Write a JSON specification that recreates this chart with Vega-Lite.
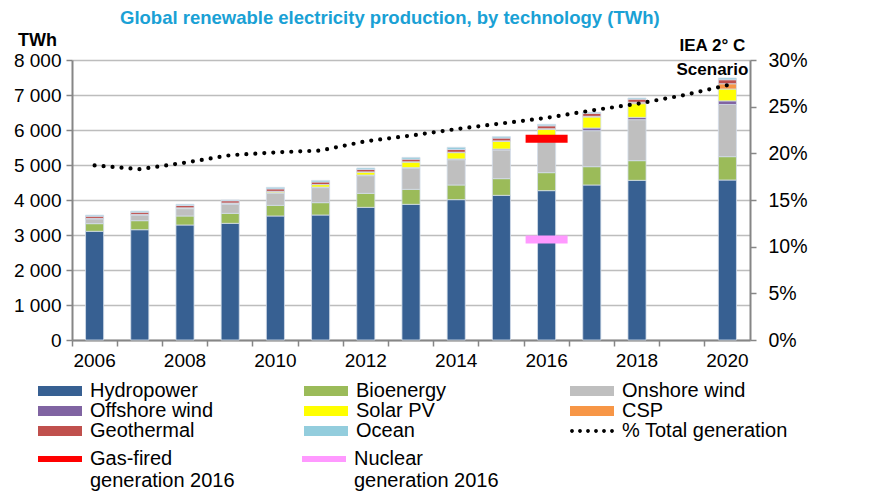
{
  "$schema": "https://vega.github.io/schema/vega-lite/v6.json",
  "width": 678,
  "height": 280,
  "autosize": "none",
  "padding": {"left": 72, "top": 60, "right": 127, "bottom": 159},
  "background": "white",
  "config": {
    "font": "Liberation Sans",
    "view": {"stroke": null},
    "axis": {"labelFont": "Liberation Sans", "labelColor": "black", "labelFontSize": 19, "domainColor": "#868686", "domainWidth": 2, "tickColor": "#868686", "tickWidth": 1.5, "tickSize": 6, "labelOverlap": false}
  },
  "title": {
    "text": "Global renewable electricity production, by technology (TWh)",
    "anchor": "start",
    "frame": "group",
    "dx": 48,
    "offset": 4,
    "fontSize": 18.5,
    "fontWeight": "bold",
    "color": "#1AA1D5"
  },
  "datasets": {
    "gen": [
      {"year": "2006", "Hydropower": 3106, "Bioenergy": 218, "Onshore wind": 140, "Offshore wind": 4, "Solar PV": 6, "CSP": 1, "Geothermal": 62, "Ocean": 30},
      {"year": "2007", "Hydropower": 3151, "Bioenergy": 258, "Onshore wind": 165, "Offshore wind": 5, "Solar PV": 8, "CSP": 1, "Geothermal": 63, "Ocean": 30},
      {"year": "2008", "Hydropower": 3286, "Bioenergy": 257, "Onshore wind": 210, "Offshore wind": 8, "Solar PV": 14, "CSP": 2, "Geothermal": 65, "Ocean": 35},
      {"year": "2009", "Hydropower": 3333, "Bioenergy": 286, "Onshore wind": 262, "Offshore wind": 10, "Solar PV": 20, "CSP": 2, "Geothermal": 66, "Ocean": 21},
      {"year": "2010", "Hydropower": 3543, "Bioenergy": 305, "Onshore wind": 350, "Offshore wind": 12, "Solar PV": 35, "CSP": 3, "Geothermal": 70, "Ocean": 44},
      {"year": "2011", "Hydropower": 3571, "Bioenergy": 353, "Onshore wind": 430, "Offshore wind": 15, "Solar PV": 70, "CSP": 4, "Geothermal": 72, "Ocean": 45},
      {"year": "2012", "Hydropower": 3790, "Bioenergy": 400, "Onshore wind": 505, "Offshore wind": 18, "Solar PV": 85, "CSP": 5, "Geothermal": 72, "Ocean": 40},
      {"year": "2013", "Hydropower": 3876, "Bioenergy": 429, "Onshore wind": 600, "Offshore wind": 20, "Solar PV": 160, "CSP": 7, "Geothermal": 75, "Ocean": 50},
      {"year": "2014", "Hydropower": 4010, "Bioenergy": 419, "Onshore wind": 722, "Offshore wind": 22, "Solar PV": 180, "CSP": 12, "Geothermal": 80, "Ocean": 60},
      {"year": "2015", "Hydropower": 4133, "Bioenergy": 477, "Onshore wind": 819, "Offshore wind": 28, "Solar PV": 219, "CSP": 14, "Geothermal": 80, "Ocean": 40},
      {"year": "2016", "Hydropower": 4267, "Bioenergy": 514, "Onshore wind": 900, "Offshore wind": 40, "Solar PV": 298, "CSP": 18, "Geothermal": 83, "Ocean": 42},
      {"year": "2017", "Hydropower": 4429, "Bioenergy": 523, "Onshore wind": 1029, "Offshore wind": 76, "Solar PV": 314, "CSP": 20, "Geothermal": 85, "Ocean": 29},
      {"year": "2018", "Hydropower": 4562, "Bioenergy": 562, "Onshore wind": 1171, "Offshore wind": 67, "Solar PV": 390, "CSP": 40, "Geothermal": 90, "Ocean": 32},
      {"year": "2020", "Hydropower": 4571, "Bioenergy": 667, "Onshore wind": 1490, "Offshore wind": 105, "Solar PV": 338, "CSP": 150, "Geothermal": 115, "Ocean": 50}
    ],
    "techs": [
      {"tech": "Hydropower", "rank": 1},
      {"tech": "Bioenergy", "rank": 2},
      {"tech": "Onshore wind", "rank": 3},
      {"tech": "Offshore wind", "rank": 4},
      {"tech": "Solar PV", "rank": 5},
      {"tech": "CSP", "rank": 6},
      {"tech": "Geothermal", "rank": 7},
      {"tech": "Ocean", "rank": 8}
    ],
    "pct": [
      {"year": "2006", "pct": 18.7, "series": "% Total generation"},
      {"year": "2007", "pct": 18.3, "series": "% Total generation"},
      {"year": "2008", "pct": 19.0, "series": "% Total generation"},
      {"year": "2009", "pct": 19.8, "series": "% Total generation"},
      {"year": "2010", "pct": 20.1, "series": "% Total generation"},
      {"year": "2011", "pct": 20.3, "series": "% Total generation"},
      {"year": "2012", "pct": 21.3, "series": "% Total generation"},
      {"year": "2013", "pct": 21.9, "series": "% Total generation"},
      {"year": "2014", "pct": 22.6, "series": "% Total generation"},
      {"year": "2015", "pct": 23.2, "series": "% Total generation"},
      {"year": "2016", "pct": 23.8, "series": "% Total generation"},
      {"year": "2017", "pct": 24.6, "series": "% Total generation"},
      {"year": "2018", "pct": 25.3, "series": "% Total generation"},
      {"year": "2019", "pct": 26.2, "series": "% Total generation"},
      {"year": "2020", "pct": 27.3, "series": "% Total generation"}
    ],
    "other": [
      {"year": "2016", "series": "Gas-fired generation 2016", "TWh": 5748},
      {"year": "2016", "series": "Nuclear generation 2016", "TWh": 2870}
    ],
    "note": [
      {"year": "2020", "label": "IEA 2° C\nScenario"}
    ]
  },
  "layer": [
    {
      "data": {"name": "gen"},
      "transform": [
        {"fold": ["Hydropower", "Bioenergy", "Onshore wind", "Offshore wind", "Solar PV", "CSP", "Geothermal", "Ocean"], "as": ["tech", "TWh"]},
        {"lookup": "tech", "from": {"data": {"name": "techs"}, "key": "tech", "fields": ["rank"]}}
      ],
      "mark": {"type": "bar", "width": {"band": 0.4}, "opacity": 1, "stroke": "#D3DDEA", "strokeWidth": 0.8},
      "encoding": {
        "x": {
          "field": "year", "type": "ordinal",
          "scale": {"domain": ["2006","2007","2008","2009","2010","2011","2012","2013","2014","2015","2016","2017","2018","2019","2020"], "paddingInner": 0, "paddingOuter": 0},
          "axis": {"title": null, "bandPosition": 0, "labelAngle": 0, "labelPadding": 5, "labelOverlap": false, "labelExpr": "toNumber(datum.value) % 2 == 0 ? datum.value : ''"}
        },
        "y": {
          "field": "TWh", "type": "quantitative", "stack": "zero",
          "scale": {"domain": [0, 8000], "nice": false},
          "axis": {
            "values": [0,1000,2000,3000,4000,5000,6000,7000,8000],
            "labelExpr": "replace(format(datum.value, ','), ',', ' ')",
            "labelOverlap": false,
            "grid": true, "gridColor": "#BDBDBD", "gridWidth": 1.5,
            "labelPadding": 5,
            "title": "TWh", "titleAngle": 0, "titleX": -35, "titleY": -20, "titleAlign": "center", "titleBaseline": "middle",
            "titleFontSize": 18, "titleFontWeight": "bold", "titleColor": "black", "titleFont": "Liberation Sans"
          }
        },
        "order": {"field": "rank", "type": "quantitative", "sort": "ascending"},
        "color": {
          "field": "tech", "type": "nominal",
          "sort": ["Hydropower", "Bioenergy", "Onshore wind", "Offshore wind", "Solar PV", "CSP", "Geothermal", "Ocean"],
          "scale": {
            "domain": ["Hydropower", "Bioenergy", "Onshore wind", "Offshore wind", "Solar PV", "CSP", "Geothermal", "Ocean"],
            "range": ["#376092", "#9BBB59", "#BFBFBF", "#8064A2", "#FFFF00", "#F79646", "#C0504D", "#93CDDD"]
          },
          "legend": {
            "orient": "none", "legendX": -39, "legendY": 321, "columns": 3, "direction": "horizontal",
            "title": null, "symbolSize": 100, "symbolType": "M-1,-1H7.8V1H-1Z", "symbolStrokeWidth": 0, "symbolOpacity": 1,
            "labelFontSize": 20, "labelFont": "Liberation Sans", "labelColor": "black", "labelOffset": 37, "labelLimit": 300,
            "columnPadding": 85, "rowPadding": 0, "gridAlign": "all"
          }
        }
      }
    },
    {
      "data": {"name": "other"},
      "mark": {"type": "tick", "thickness": 8, "size": 42, "opacity": 1},
      "encoding": {
        "x": {"field": "year", "type": "ordinal", "scale": {"domain": ["2006","2007","2008","2009","2010","2011","2012","2013","2014","2015","2016","2017","2018","2019","2020"]}},
        "y": {"field": "TWh", "type": "quantitative", "scale": {"domain": [0, 8000], "nice": false}, "axis": null},
        "color": {
          "field": "series", "type": "nominal",
          "scale": {"domain": ["Gas-fired generation 2016", "Nuclear generation 2016"], "range": ["#FF0000", "#FF99FF"]},
          "legend": {
            "orient": "none", "legendX": -39, "legendY": 389, "columns": 2, "direction": "horizontal",
            "title": null, "symbolSize": 100, "symbolType": "M-1,-0.6H7.8V0.6H-1Z", "symbolStrokeWidth": 0, "symbolOpacity": 1,
            "labelFontSize": 20, "labelFont": "Liberation Sans", "labelColor": "black", "labelOffset": 37, "labelLimit": 300,
            "columnPadding": 62, "rowPadding": 0, "gridAlign": "all",
            "labelExpr": "datum.label == 'Gas-fired generation 2016' ? ['Gas-fired', 'generation 2016'] : ['Nuclear', 'generation 2016']",
            "encode": {
              "labels": {"update": {"lineHeight": {"value": 22}}}
            }
          }
        }
      }
    },
    {
      "data": {"name": "note"},
      "mark": {"type": "text", "lineBreak": "\n", "fontWeight": "bold", "fontSize": 17, "align": "center", "baseline": "middle", "dx": -15, "dy": -14, "lineHeight": 24, "color": "black"},
      "encoding": {
        "x": {"field": "year", "type": "ordinal", "scale": {"domain": ["2006","2007","2008","2009","2010","2011","2012","2013","2014","2015","2016","2017","2018","2019","2020"]}},
        "y": {"datum": 8000, "type": "quantitative", "scale": {"domain": [0, 8000], "nice": false}, "axis": null},
        "text": {"field": "label"}
      }
    },
    {
      "data": {"name": "pct"},
      "mark": {"type": "line", "color": "black", "strokeWidth": 4.2, "strokeCap": "round"},
      "encoding": {
        "x": {"field": "year", "type": "ordinal", "scale": {"domain": ["2006","2007","2008","2009","2010","2011","2012","2013","2014","2015","2016","2017","2018","2019","2020"]}},
        "y": {
          "field": "pct", "type": "quantitative",
          "scale": {"domain": [0, 30], "nice": false},
          "axis": {"orient": "right", "values": [0,5,10,15,20,25,30], "labelExpr": "datum.value + '%'", "labelOverlap": false, "grid": false, "title": null, "labelPadding": 12, "labelFontSize": 19.5}
        },
        "strokeDash": {
          "field": "series", "type": "nominal",
          "scale": {"domain": ["% Total generation"], "range": [[0, 9]]},
          "legend": {
            "orient": "none", "legendX": 493, "legendY": 361,
            "title": null, "symbolSize": 100,
            "symbolType": "M-0.98,0a0.38,0.38 0 1,0 0.76,0a0.38,0.38 0 1,0 -0.76,0M0.62,0a0.38,0.38 0 1,0 0.76,0a0.38,0.38 0 1,0 -0.76,0M2.22,0a0.38,0.38 0 1,0 0.76,0a0.38,0.38 0 1,0 -0.76,0M3.82,0a0.38,0.38 0 1,0 0.76,0a0.38,0.38 0 1,0 -0.76,0M5.42,0a0.38,0.38 0 1,0 0.76,0a0.38,0.38 0 1,0 -0.76,0M7.02,0a0.38,0.38 0 1,0 0.76,0a0.38,0.38 0 1,0 -0.76,0",
            "symbolFillColor": "black", "symbolStrokeWidth": 0, "symbolOpacity": 1,
            "labelFontSize": 20, "labelFont": "Liberation Sans", "labelColor": "black", "labelOffset": 37, "labelLimit": 300
          }
        }
      }
    }
  ],
  "resolve": {"scale": {"y": "independent", "color": "independent"}}
}
